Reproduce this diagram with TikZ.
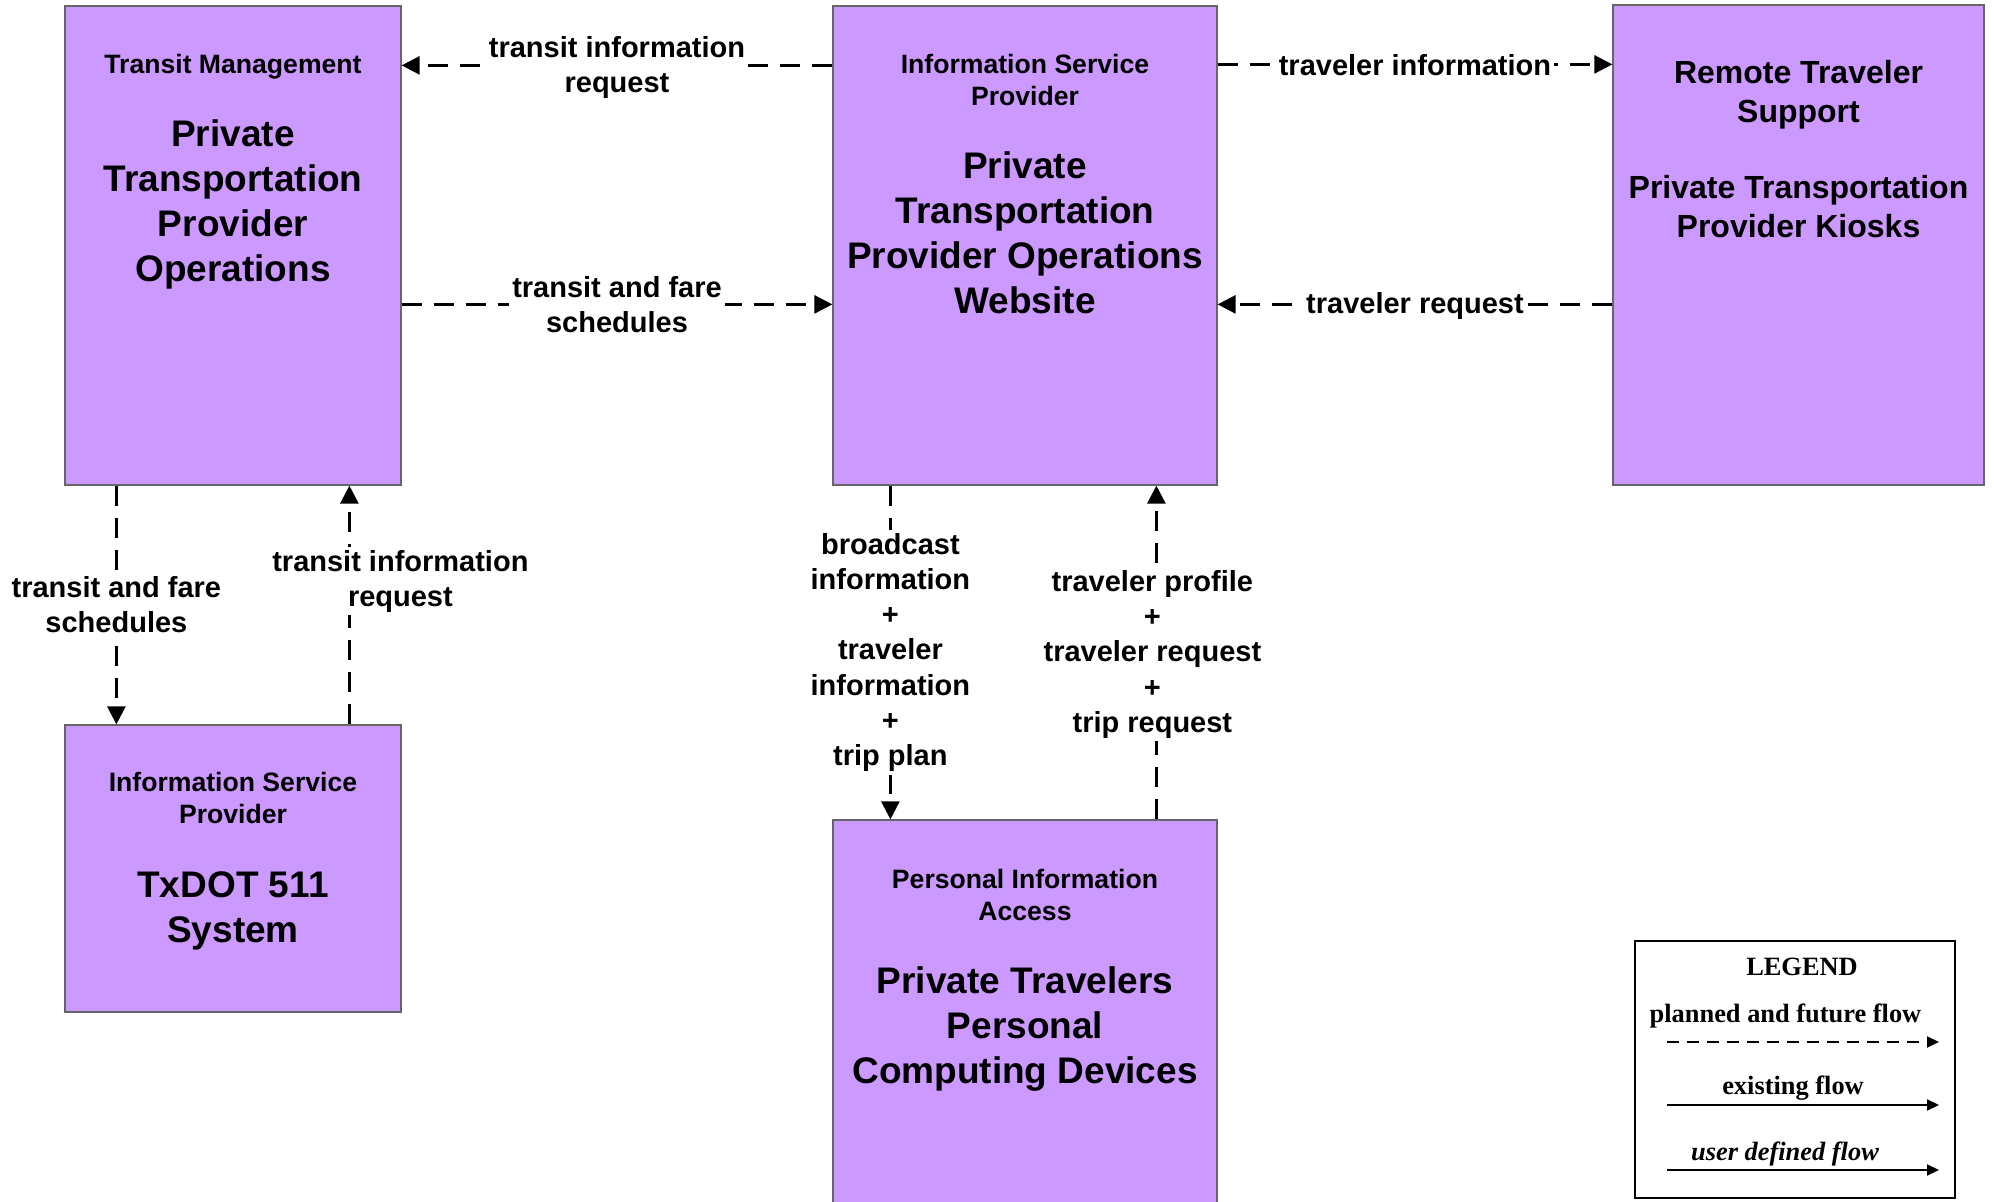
\documentclass[tikz,border=0pt]{standalone}
\usepackage{fontspec}
\setmainfont{Liberation Sans}
\newfontfamily\legendfont{Liberation Serif}
\usetikzlibrary{arrows.meta,calc}
\definecolor{boxfill}{RGB}{204,153,255}
\definecolor{boxline}{RGB}{102,102,102}
\tikzset{
 sysbox/.style={draw=boxline, line width=0.6pt, fill=boxfill, inner sep=0pt},
 hdr/.style={font=\fontsize{13.3}{16}\selectfont\bfseries, align=center, inner sep=0pt},
 big/.style={font=\fontsize{18.5}{22.5}\selectfont\bfseries, align=center, inner sep=0pt},
 rtstext/.style={font=\fontsize{16}{19.5}\selectfont\bfseries, align=center, inner sep=0pt},
 flow/.style={line width=1.3pt, dash pattern=on 10pt off 6pt, -{Triangle[length=9pt,width=9pt]}},
 lbl/.style={font=\fontsize{14.5}{17.6}\selectfont\bfseries, align=center, fill=white, inner sep=1.5pt},
 leg/.style={font=\legendfont\fontsize{13.2}{16}\selectfont\bfseries, inner sep=0pt},
 legarrow/.style={line width=1pt, -{Triangle[length=6pt,width=5.5pt]}},
}
\begin{document}
\begin{tikzpicture}[x=0.5pt,y=-0.5pt]
\path[use as bounding box] (0,0) rectangle (1994,1202);
\clip (0,0) rectangle (1994,1202);
\fill[white] (0,0) rectangle (1994,1202);

% boxes
\node[sysbox, minimum width=168pt, minimum height=239.5pt] (tm) at (233,245.5) {};
\node[sysbox, minimum width=168pt, minimum height=143.5pt] (txd) at (233,868.5) {};
\node[sysbox, minimum width=192pt, minimum height=239.5pt] (isp) at (1025,245.5) {};
\node[sysbox, minimum width=185.5pt, minimum height=240pt] (rts) at (1798.5,245) {};
\node[sysbox, minimum width=192pt, minimum height=200pt] (pia) at (1025,1020) {};

% box texts
\node[hdr] (tmh) at (233,67) {Transit Management};
\node[big] (tmb) at (233,204) {Private\\Transportation\\Provider\\Operations};
\node[hdr] (isph) at (1025,80) {Information Service\\Provider};
\node[big] (ispb) at (1025,233) {Private\\Transportation\\Provider Operations\\Website};
\node[rtstext] (rtsh) at (1798.5,95) {Remote Traveler\\Support};
\node[rtstext] (rtsb) at (1798.5,207) {Private Transportation\\Provider Kiosks};
\node[hdr] (txdh) at (233,798) {Information Service\\Provider};
\node[big] (txdb) at (233,911) {TxDOT 511\\System};
\node[hdr] (piah) at (1025,895) {Personal Information\\Access};
\node[big] (piab) at (1025,1029) {Private Travelers\\Personal\\Computing Devices};

% flows
\draw[flow] ($(isp.north west)+(0,60)$) -- node[lbl, yshift=-1.2pt]{transit information\\request} ($(tm.north east)+(0,60)$);
\draw[flow] ($(tm.north east)+(0,299)$) -- node[lbl]{transit and fare\\schedules} ($(isp.north west)+(0,299)$);
\draw[flow] ($(isp.north east)+(0,59)$) -- node[lbl, yshift=-0.6pt]{traveler information} ($(rts.north west)+(0,60)$);
\draw[flow] ($(rts.north west)+(0,300)$) -- node[lbl, yshift=-1pt]{traveler request} ($(isp.north east)+(0,299)$);
\draw[flow] ($(tm.south west)+(52,0)$) -- node[lbl]{transit and fare\\schedules} ($(txd.north west)+(52,0)$);
\draw[flow] ($(txd.north west)+(285,0)$) -- node[lbl, pos=0.6, xshift=25.5pt]{transit information\\request} ($(tm.south west)+(285,0)$);
\draw[flow] ($(isp.south west)+(58,0)$) -- node[lbl]{broadcast\\information\\+\\traveler\\information\\+\\trip plan} ($(pia.north west)+(58,0)$);
\draw[flow] ($(pia.north west)+(324,0)$) -- node[lbl, xshift=-2pt, yshift=-1pt]{traveler profile\\+\\traveler request\\+\\trip request} ($(isp.south west)+(324,0)$);

% legend
\node[draw=black, line width=1.3pt, minimum width=160pt, minimum height=128.5pt, inner sep=0pt] (legend) at (1795,1069.5) {};
\node[leg] (legt) at (1802,967) {LEGEND};
\node[leg] (leg1) at (1785.5,1016) {planned and future flow};
\node[leg] (leg2) at (1793,1088) {existing flow};
\node[leg, font=\legendfont\fontsize{13.2}{16}\selectfont\bfseries\itshape] (leg3) at (1785,1154) {user defined flow};
\coordinate (a1s) at (1667,1042); \coordinate (a1e) at (1939,1042);
\coordinate (a2s) at (1667,1105); \coordinate (a2e) at (1939,1105);
\coordinate (a3s) at (1667,1170); \coordinate (a3e) at (1939,1170);
\draw[legarrow, dash pattern=on 6pt off 4pt] (a1s) -- (a1e);
\draw[legarrow] (a2s) -- (a2e);
\draw[legarrow] (a3s) -- (a3e);
\end{tikzpicture}
\end{document}
